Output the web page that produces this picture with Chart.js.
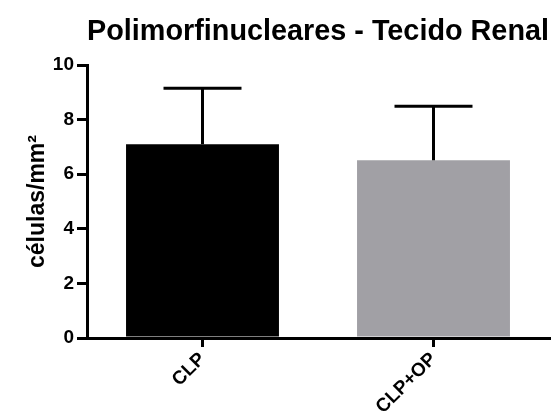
<!DOCTYPE html>
<html>
<head>
<meta charset="utf-8">
<title>Polimorfinucleares - Tecido Renal</title>
<script src="https://cdn.jsdelivr.net/npm/chart.js@4.4.1/dist/chart.umd.min.js"></script>
<style>
  html, body { margin: 0; padding: 0; background: #fff; }
  #wrap { width: 558px; height: 418px; }
</style>
</head>
<body>
<div id="wrap"><canvas id="chart" width="558" height="418"></canvas></div>
<script>
// Data
const groups = ['CLP', 'CLP+OP'];
const means = [7.1, 6.51];
const errors = [2.05, 1.98];   // upper error (SD/SEM) only
const barColors = ['#000000', '#a1a0a5'];
const yTicks = [0, 2, 4, 6, 8, 10];

// Upward-only error bars with caps
const errorBarPlugin = {
  id: 'errorBars',
  afterDatasetsDraw(chart) {
    const ctx = chart.ctx;
    const yScale = chart.scales.y;
    const meta = chart.getDatasetMeta(0);
    ctx.save();
    ctx.strokeStyle = '#000';
    ctx.lineWidth = 3;
    ctx.lineCap = 'butt';
    meta.data.forEach((bar, i) => {
      const yTop = yScale.getPixelForValue(means[i] + errors[i]);
      const half = bar.width * 0.255;
      ctx.beginPath();
      ctx.moveTo(bar.x, bar.y);
      ctx.lineTo(bar.x, yTop);
      ctx.moveTo(bar.x - half, yTop);
      ctx.lineTo(bar.x + half, yTop);
      ctx.stroke();
    });
    ctx.restore();
  }
};

Chart.defaults.color = '#000';
Chart.defaults.font.family = "'Liberation Sans', Arial, sans-serif";

const ctx = document.getElementById('chart').getContext('2d');
new Chart(ctx, {
  type: 'bar',
  data: {
    labels: groups,
    datasets: [{
      data: means,
      backgroundColor: barColors,
      borderWidth: 0,
      barPercentage: 0.662,
      categoryPercentage: 1.0
    }]
  },
  plugins: [errorBarPlugin],
  options: {
    responsive: false,
    animation: false,
    layout: {
      padding: { left: 0, right: 9, top: 0, bottom: 0 }
    },
    plugins: {
      legend: { display: false },
      tooltip: { enabled: false },
      title: {
        display: true,
        text: 'Polimorfinucleares - Tecido Renal',
        fullSize: false,
        color: '#000',
        font: { size: 29, weight: 'bold' },
        padding: { top: 15, bottom: 15.2 }
      }
    },
    scales: {
      x: {
        offset: true,
        grid: {
          display: true,
          offset: false,
          drawOnChartArea: false,
          drawTicks: true,
          tickLength: 9,
          color: '#000',
          lineWidth: 3
        },
        border: { display: true, color: '#000', width: 3 },
        ticks: {
          color: '#000',
          font: { size: 19, weight: 'bold' },
          maxRotation: 45,
          minRotation: 45,
          padding: 1
        },
        afterFit(scale) { scale.height = 80; }
      },
      y: {
        min: 0,
        max: 10,
        afterBuildTicks(scale) {
          scale.ticks = yTicks.map(v => ({ value: v }));
        },
        grid: {
          display: true,
          drawOnChartArea: false,
          drawTicks: true,
          tickLength: 10,
          color: '#000',
          lineWidth: 3
        },
        border: { display: true, color: '#000', width: 3 },
        ticks: {
          color: '#000',
          font: { size: 19, weight: 'bold' },
          padding: 3
        },
        title: {
          display: true,
          text: 'células/mm²',
          color: '#000',
          font: { size: 23, weight: 'bold' },
          padding: { top: 24, bottom: 0 }
        },
        afterFit(scale) { scale.width = 87; }
      }
    }
  }
});
</script>
</body>
</html>
